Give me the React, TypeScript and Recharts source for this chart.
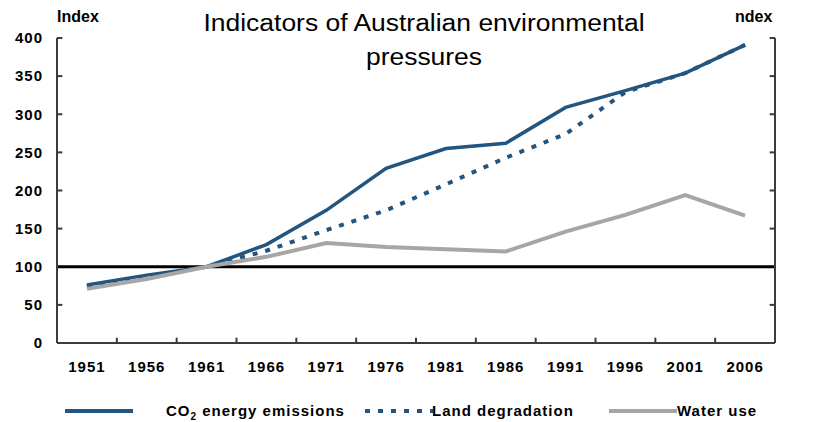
import { LineChart, Line, XAxis, YAxis, ReferenceLine } from "recharts"

// census years shown on the axis
const YEARS = [1951, 1956, 1961, 1966, 1971, 1976, 1981, 1986, 1991, 1996, 2001, 2006]
// index values (1961 = 100)
const CO2 = [76, 89, 100, 129, 174, 229, 255, 262, 309, 331, 354, 391]
const LAND = [74, 87, 100, 121, 148, 174, 208, 243, 274, 329, 354, 391]
const WATER = [71, 84, 100, 113, 131, 126, 123, 120, 146, 168, 194, 167]
const Y_TICKS = [0, 50, 100, 150, 200, 250, 300, 350, 400]

const X_MIN = 1948.5
const X_MAX = 2008.5
// tick marks sit between the year labels
const X_MARKS = YEARS.slice(0, -1).map(y => y + 2.5)
const MARK_X = 0.45 // length of the inward y tick marks, in years
const MARK_Y = 7 // length of the inward x tick marks, in index points

const data = YEARS.map((year, i) => ({ year, co2: CO2[i], land: LAND[i], water: WATER[i] }))

const BLUE = "#22557f"
const GREY = "#a6a6a6"
const AXIS = "#3c3c3c"
const FONT = "'Liberation Sans', Arial, sans-serif"
const tickStyle = { fontSize: 15, fontWeight: 700, fill: "#000", fontFamily: FONT, letterSpacing: 1 }

function LegendItem({ left, textLeft, label, color, dashed }: { left: number; textLeft: number; label: React.ReactNode; color: string; dashed?: boolean }) {
  return (
    <>
      <svg width={70} height={8} style={{ position: "absolute", left, top: 407 }}>
        <line x1={0} y1={4} x2={68} y2={4} stroke={color} strokeWidth={4} strokeDasharray={dashed ? "5 8" : undefined} />
      </svg>
      <div style={{ position: "absolute", left: textLeft, top: 402, fontSize: 15, fontWeight: 700, letterSpacing: 1, whiteSpace: "nowrap", lineHeight: "18px" }}>
        {label}
      </div>
    </>
  )
}

export default function App() {
  return (
    <div style={{ position: "relative", width: 816, height: 422, fontFamily: FONT, background: "#fff", overflow: "hidden" }}>
      <style>{`body{margin:0}`}</style>

      {/* titre sur deux lignes, un peu étiré comme l'original */}
      <div style={{ position: "absolute", left: 124, top: 6, width: 600, textAlign: "center", fontSize: 23, lineHeight: "34px", transform: "scaleX(1.15)", transformOrigin: "300px 0" }}>
        Indicators of Australian environmental<br />pressures
      </div>
      <div style={{ position: "absolute", left: 57, top: 8, fontSize: 16, fontWeight: 700 }}>Index</div>
      <div style={{ position: "absolute", left: 735, top: 8, fontSize: 16, fontWeight: 700 }}>ndex</div>

      <div style={{ position: "absolute", left: 0, top: 0 }}>
        <LineChart width={816} height={422} data={data} margin={{ top: 38, right: 0, bottom: 39, left: 0 }}>
          <XAxis
            dataKey="year" type="number" domain={[X_MIN, X_MAX]} ticks={YEARS} interval={0}
            height={40} tickLine={false} tickSize={0} tickMargin={18}
            axisLine={{ stroke: AXIS, strokeWidth: 2 }} tick={tickStyle}
          />
          <YAxis
            yAxisId="left" domain={[0, 400]} ticks={Y_TICKS} interval={0} width={57}
            tickLine={false} tickSize={0} tickMargin={14}
            axisLine={{ stroke: AXIS, strokeWidth: 2 }} tick={tickStyle}
          />
          <YAxis
            yAxisId="right" orientation="right" domain={[0, 400]} ticks={Y_TICKS} interval={0} width={41}
            tickLine={false} tickSize={0} tickMargin={9}
            axisLine={{ stroke: AXIS, strokeWidth: 2 }} tick={{ ...tickStyle, textAnchor: "start" }}
          />

          {/* inward tick marks */}
          {X_MARKS.map(m => (
            <ReferenceLine key={`x${m}`} yAxisId="left" ifOverflow="visible" stroke={AXIS} strokeWidth={2}
              segment={[{ x: m, y: 0 }, { x: m, y: MARK_Y }]} />
          ))}
          {Y_TICKS.map(t => (
            <ReferenceLine key={`l${t}`} yAxisId="left" ifOverflow="visible" stroke={AXIS} strokeWidth={2}
              segment={[{ x: X_MIN, y: t }, { x: X_MIN + MARK_X, y: t }]} />
          ))}
          {Y_TICKS.map(t => (
            <ReferenceLine key={`r${t}`} yAxisId="left" ifOverflow="visible" stroke={AXIS} strokeWidth={2}
              segment={[{ x: X_MAX - MARK_X, y: t }, { x: X_MAX, y: t }]} />
          ))}

          <ReferenceLine yAxisId="left" y={100} stroke="#000" strokeWidth={3} />
          <Line yAxisId="left" dataKey="co2" type="linear" stroke={BLUE} strokeWidth={3.5} dot={false} isAnimationActive={false} />
          <Line yAxisId="left" dataKey="land" type="linear" stroke={BLUE} strokeWidth={4} strokeDasharray="5 8" dot={false} isAnimationActive={false} />
          <Line yAxisId="left" dataKey="water" type="linear" stroke={GREY} strokeWidth={4} dot={false} isAnimationActive={false} />
        </LineChart>
      </div>

      <LegendItem left={65} textLeft={166} color={BLUE} label={<>CO<sub style={{ fontSize: 10 }}>2</sub> energy emissions</>} />
      <LegendItem left={365} textLeft={432} color={BLUE} dashed label="Land degradation" />
      <LegendItem left={609} textLeft={677} color={GREY} label="Water use" />
    </div>
  )
}
